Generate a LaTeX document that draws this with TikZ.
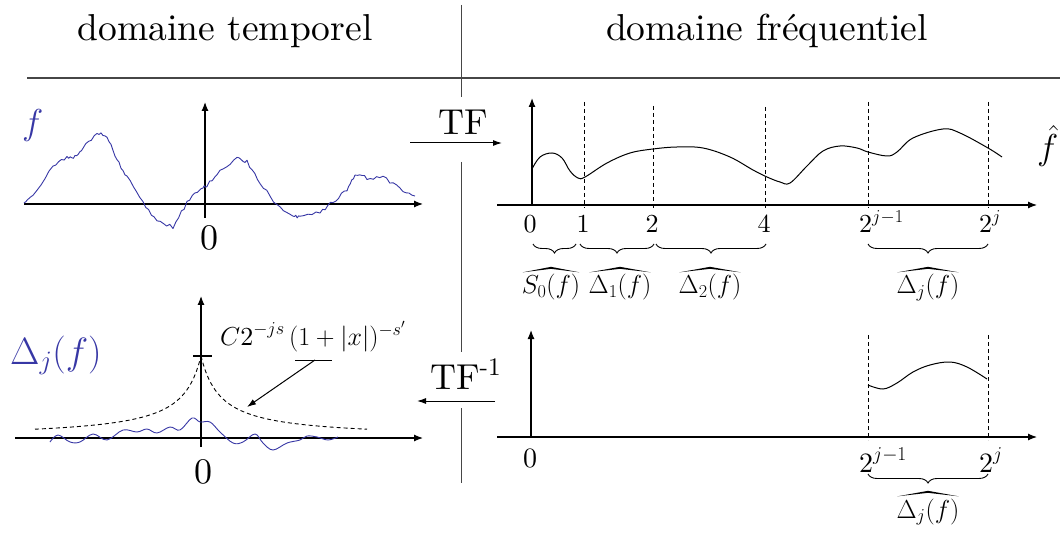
\RequirePackage{fix-cm}
\documentclass[tikz,border=0pt]{standalone}
\usepackage{amsmath}
\usepackage{fontspec}
\setmainfont{lmroman10}[Extension=.otf,UprightFont=*-regular,ItalicFont=*-italic,BoldFont=*-bold,BoldItalicFont=*-bolditalic]
\usetikzlibrary{arrows.meta,decorations.pathreplacing,calc}
\definecolor{fblue}{RGB}{55,55,165}
\definecolor{rule}{RGB}{70,70,70}
\newcommand{\hatover}[1]{\fill ($(#1.north west)+(1,-2)$) -- ($(#1.north)+(0,-7.5)$) -- ($(#1.north east)+(-1,-2)$) -- ($(#1.north)+(0,-5.5)$) -- cycle;}
\begin{document}
\begin{tikzpicture}[x=1pt,y=-1pt,
  ax/.style={line width=1.2pt,-{Latex[length=9pt,width=7pt]}},
  conn/.style={line width=1pt,-{Latex[length=9pt,width=6pt]}},
  dsh/.style={line width=0.9pt,dash pattern=on 4pt off 3pt},
  crv/.style={line width=1pt},
  brc/.style={decorate,decoration={brace,mirror,amplitude=9pt},line width=0.9pt},
  big/.style={font=\fontsize{36}{40}\selectfont,inner sep=0pt},
  head/.style={font=\fontsize{37.5}{42}\selectfont,inner sep=0pt},
  tick/.style={font=\fontsize{26}{30}\selectfont,inner sep=0pt},
  btick/.style={font=\fontsize{28}{32}\selectfont,inner sep=0pt},
  lab/.style={font=\fontsize{26}{30}\selectfont,inner sep=0pt},
  divider/.style={line width=1pt,draw=rule},
]
\useasboundingbox (0,0) rectangle (1060,545);
\begin{scope}
\clip (0,0) rectangle (1060,545);

% headers
\node[head,anchor=base] (h1) at (225,41) {domaine temporel};
\node[head,anchor=base] (h2) at (767,41) {domaine fréquentiel};
\coordinate (hl1) at (27,78);
\coordinate (hl2) at (1060,78);
\draw[line width=1.5pt,draw=rule] (hl1) -- (hl2);

% divider
\coordinate (d1) at (461,5);   \coordinate (d2) at (461,97);
\coordinate (d3) at (461,162); \coordinate (d4) at (461,352);
\coordinate (d5) at (461,408); \coordinate (d6) at (461,483);
\draw[divider] (d1) -- (d2);
\draw[divider] (d3) -- (d4);
\draw[divider] (d5) -- (d6);

% TF arrows
\node[big,anchor=base] (tf) at (463,135) {TF};
\coordinate (tfa) at (410,143); \coordinate (tfb) at (502,143);
\draw[conn] (tfa) -- (tfb);
\node[big,anchor=base west] (tfi) at (430,389) {TF\textsuperscript{-1}};
\coordinate (tia) at (495,401); \coordinate (tib) at (417,401);
\draw[conn] (tia) -- (tib);

% ---------- top left ----------
\coordinate (tlx1) at (24,204);  \coordinate (tlx2) at (423,204);
\coordinate (tly1) at (205,218); \coordinate (tly2) at (205,102);
\draw[ax] (tlx1) -- (tlx2);
\draw[ax] (tly1) -- (tly2);
\node[big,text=fblue,anchor=base west] (flab) at (22,135) {$f$};
\node[big,anchor=base] (tl0) at (209,250) {0};
\pgfmathsetseed{11}
\draw[fblue,line width=0.9pt,line join=round] (24,203)
  \foreach \x/\y [remember=\x as \px (initially 24), remember=\y as \py (initially 203)] in
  {33/196,53/165,67/158,75/157,83/148,97/133,107/136,117/160,127/177,143/203,157/222,173/227,187/203,200/189,207/185,220/172,237/157,247/162,260/183,277/205,293/215,300/218,320/212,333/202,347/190,355/174,367/178,383/177,400/189,415/195}
  { \foreach \t in {0.2,0.4,0.6,0.8,1.0} { -- ({\px+\t*(\x-\px)},{\py+\t*(\y-\py)+1.8*rand}) } };

% ---------- top right ----------
\coordinate (trx1) at (497,205); \coordinate (trx2) at (1037,205);
\coordinate (try1) at (532,205); \coordinate (try2) at (532,98);
\draw[ax] (trx1) -- (trx2);
\draw[ax] (try1) -- (try2);
\coordinate (v1a) at (584,102); \coordinate (v1b) at (584,208);
\coordinate (v2a) at (653,106); \coordinate (v2b) at (653,208);
\coordinate (v4a) at (765,107); \coordinate (v4b) at (765,208);
\coordinate (vja) at (868,102); \coordinate (vjb) at (868,208);
\coordinate (vka) at (988,102); \coordinate (vkb) at (988,208);
\foreach \a/\b in {v1a/v1b,v2a/v2b,v4a/v4b,vja/vjb,vka/vkb} \draw[dsh] (\a) -- (\b);
\draw[crv] plot[smooth,tension=0.6] coordinates {(532,169) (540,157) (552,153) (562,158) (570,171) (578,178) (585,177) (607,163) (630,153) (653,149) (677,147) (703,148) (730,157) (753,170) (767,177) (780,182) (790,183) (807,166) (823,151) (840,146) (857,148) (868,152) (887,156) (897,152) (913,138) (943,129) (960,133) (988,148) (1002,157)};
\node[tick,anchor=base] (t0) at (530,233) {0};
\node[tick,anchor=base] (t1) at (583,233) {1};
\node[tick,anchor=base] (t2) at (652,233) {2};
\node[tick,anchor=base] (t4) at (764,233) {4};
\node[tick,anchor=base west] (tj1) at (859,233) {$\text{2}^{j-1}$};
\node[tick,anchor=base west] (tj) at (979,233) {$\text{2}^{j}$};
\node[big,anchor=base west] (fhat) at (1037,160) {$\hat{f}$};
\coordinate (b0a) at (533,244); \coordinate (b0b) at (576,244);
\coordinate (b1a) at (580,244); \coordinate (b1b) at (654,244);
\coordinate (b2a) at (656,244); \coordinate (b2b) at (766,244);
\coordinate (bja) at (868,244); \coordinate (bjb) at (988,244);
\draw[brc] (b0a) -- (b0b);
\draw[brc] (b1a) -- (b1b);
\draw[brc] (b2a) -- (b2b);
\draw[brc] (bja) -- (bjb);
\node[lab,anchor=base] (s0) at (551,294) {$S_0(f)$};
\node[lab,anchor=base] (dd1) at (620,294) {$\Delta_1(f)$};
\node[lab,anchor=base] (dd2) at (710,294) {$\Delta_2(f)$};
\node[lab,anchor=base] (ddj) at (928,294) {$\Delta_j(f)$};
\hatover{s0} \hatover{dd1} \hatover{dd2} \hatover{ddj}

% ---------- bottom left ----------
\coordinate (blx1) at (15,438);  \coordinate (blx2) at (423,438);
\coordinate (bly1) at (201,447); \coordinate (bly2) at (201,296);
\draw[ax] (blx1) -- (blx2);
\draw[ax] (bly1) -- (bly2);
\coordinate (tk1) at (193,356); \coordinate (tk2) at (212,356);
\draw[line width=1.1pt] (tk1) -- (tk2);
\draw[dsh] plot[domain=35:201,samples=70] (\x,{438-82/(1+abs(\x-201)/20)});
\draw[dsh] plot[domain=201:367,samples=70] (\x,{438-82/(1+abs(\x-201)/20)});
\node[lab,anchor=base west] (form) at (220,345) {$C\text{2}^{-js}\,(1+|x|)^{-s'}$};
\coordinate (ld1) at (295,360); \coordinate (ld2) at (332,360);
\coordinate (ldm) at (315,360); \coordinate (ldt) at (247,407);
\draw[line width=1pt] (ld1) -- (ld2);
\draw[conn] (ldm) -- (ldt);
\node[inner sep=0pt,font=\fontsize{38}{42}\selectfont,text=fblue,anchor=base west] (dj) at (10,364) {$\Delta_j(f)$};
\node[big,anchor=base] (bl0) at (203,483) {0};
\draw[fblue,line width=0.9pt] plot[smooth,tension=0.6] coordinates {(50,442) (58,435) (70,442) (80,442) (93,434) (107,440) (123,430) (137,432) (147,429) (157,433) (170,427) (180,430) (192,418) (200,422) (210,422) (220,432) (233,443) (243,442) (255,434) (263,443) (273,450) (287,443) (300,440) (307,436) (317,437) (328,440) (338,437)};

% ---------- bottom right ----------
\coordinate (brx1) at (497,437); \coordinate (brx2) at (1037,437);
\coordinate (bry1) at (531,437); \coordinate (bry2) at (531,330);
\draw[ax] (brx1) -- (brx2);
\draw[ax] (bry1) -- (bry2);
\coordinate (w1a) at (868,335); \coordinate (w1b) at (868,440);
\coordinate (w2a) at (988,335); \coordinate (w2b) at (988,440);
\draw[dsh] (w1a) -- (w1b);
\draw[dsh] (w2a) -- (w2b);
\draw[crv] plot[smooth,tension=0.6] coordinates {(868,385) (883,389) (897,383) (913,372) (930,365) (950,362) (967,367) (987,379)};
\node[btick,anchor=base] (b0) at (530,467) {0};
\node[btick,anchor=base west] (bj1) at (859,472) {$\text{2}^{j-1}$};
\node[btick,anchor=base west] (bj) at (979,472) {$\text{2}^{j}$};
\coordinate (bba) at (868,474); \coordinate (bbb) at (988,474);
\draw[brc] (bba) -- (bbb);
\node[lab,anchor=base] (bdj) at (928,518) {$\Delta_j(f)$};
\hatover{bdj}
\end{scope}
\end{tikzpicture}
\end{document}
